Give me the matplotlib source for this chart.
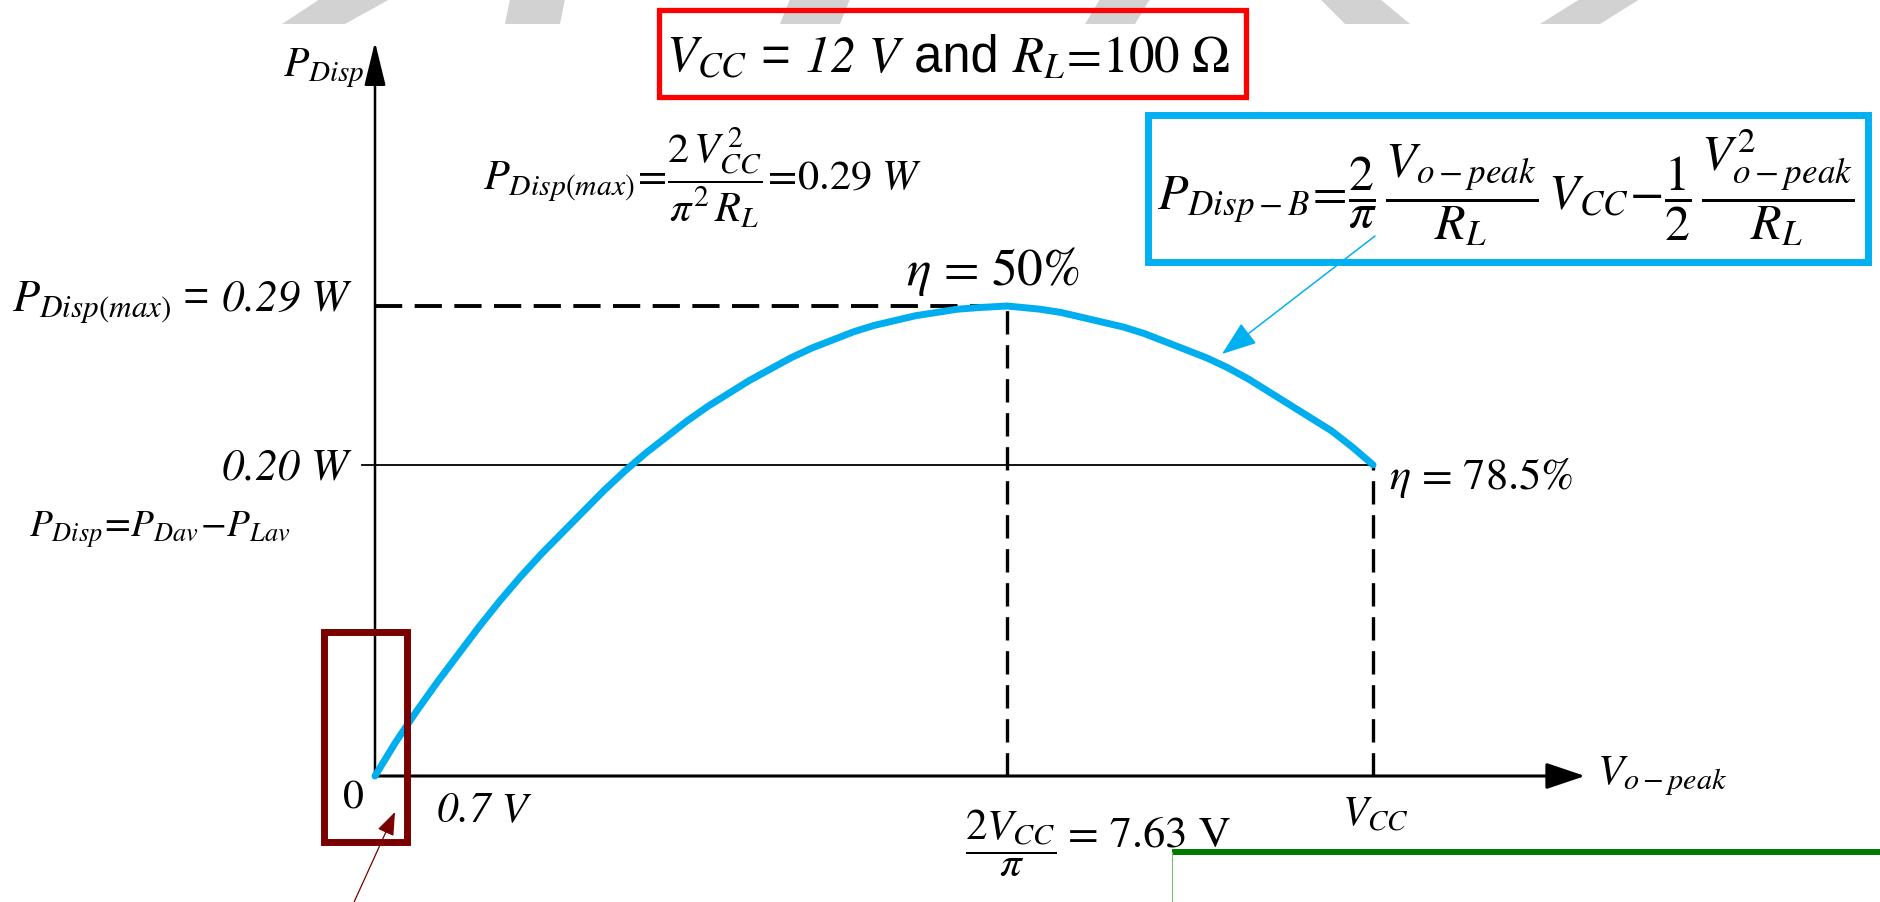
import matplotlib
matplotlib.use("Agg")
import matplotlib.pyplot as plt
from matplotlib.patches import Rectangle, Polygon

plt.rcParams['mathtext.fontset'] = 'stix'
plt.rcParams['font.family'] = ['STIXGeneral', 'DejaVu Serif']

# curve: V_o-peak (V) vs P_Disp (W)
v_out = [0, 0.25, 0.5, 0.75, 1.0, 1.25, 1.5, 1.75, 2.0, 2.25, 2.5, 2.75, 3.0,
         3.25, 3.5, 3.75, 4.0, 4.25, 4.5, 4.75, 5.0, 5.25, 5.5, 5.75, 6.0,
         6.25, 6.5, 6.75, 7.0, 7.25, 7.6, 8.0, 8.25, 8.5, 8.75, 9.0, 9.25,
         9.5, 9.75, 10.0, 10.25, 10.5, 10.75, 11.0, 11.25, 11.5, 11.75, 12.0]
p_disp = [0, 0.021, 0.040, 0.058, 0.075, 0.092, 0.108, 0.123, 0.137, 0.150,
          0.163, 0.176, 0.188, 0.199, 0.209, 0.219, 0.228, 0.236, 0.244, 0.251,
          0.258, 0.264, 0.269, 0.274, 0.278, 0.281, 0.284, 0.286, 0.288, 0.289,
          0.290, 0.288, 0.286, 0.283, 0.280, 0.277, 0.273, 0.268, 0.263, 0.258,
          0.252, 0.245, 0.237, 0.229, 0.221, 0.213, 0.203, 0.192]
vcc = 12
y_labels = ["0.29 W", "0.20 W"]
eta_labels = ["50%", "78.5%"]

# pixel -> data mapping of the drawing (origin at px 375,777)
X0, SX = 375, 83.17
Y0, SY = 777, 1620.7
W, H = 1881, 903
def X(px):
    return (px - X0) / SX
def Y(py):
    return (Y0 - py) / SY

fig = plt.figure(figsize=(W / 100, H / 100), dpi=100)
ax = fig.add_axes([0, 0, 1, 1])
ax.set_xlim(X(0), X(W))
ax.set_ylim(Y(H), Y(0))
ax.axis('off')
renderer = fig.canvas.get_renderer()

SANS = ['Liberation Sans', 'DejaVu Sans']
SERIF_IT = dict(family='STIXGeneral', fontstyle='italic')

def row(x_px, y_px, pieces, ha='left', size=30):
    # lay text pieces side by side on one baseline
    texts = [ax.text(0, 0, s, fontsize=size, ha='left', va='baseline', **kw) for s, kw in pieces]
    widths = [t.get_window_extent(renderer).width for t in texts]
    x = x_px - {'left': 0, 'center': sum(widths) / 2, 'right': sum(widths)}[ha]
    for t, w in zip(texts, widths):
        t.set_position((X(x), Y(y_px)))
        x += w

# faint watermark strokes at the top
wm = [((320, 390), (282, 345)), ((510, 565), (505, 560)), ((790, 850), (780, 840)),
      ((1100, 1150), (1085, 1135)), ((1320, 1380), (1345, 1410)), ((1580, 1640), (1540, 1600))]
for (t0, t1), (b0, b1) in wm:
    ax.add_patch(Polygon([(X(t0), Y(0)), (X(t1), Y(0)), (X(b1), Y(25)), (X(b0), Y(25))],
                         closed=True, color='#d2d2d2', lw=0, zorder=0))

# axes with arrows
ax.annotate('', xy=(0, Y(43)), xytext=(0, 0),
            arrowprops=dict(arrowstyle='-|>,head_length=0.9,head_width=0.22', mutation_scale=30,
                            lw=1.8, color='black', shrinkA=0, shrinkB=0))
ax.annotate('', xy=(X(1585), 0), xytext=(0, 0),
            arrowprops=dict(arrowstyle='-|>,head_length=0.8,head_width=0.27', mutation_scale=30,
                            lw=2.2, color='black', shrinkA=0, shrinkB=0))

# reference lines
imax = p_disp.index(max(p_disp))
v_max, p_max = v_out[imax], p_disp[imax]
p_end = p_disp[-1]
dash = (7, 3.2)
ax.plot([0, v_max], [p_max, p_max], color='black', lw=2.8, dashes=dash)
ax.plot([v_max, v_max], [0, p_max], color='black', lw=2.4, dashes=dash)
ax.plot([X(362), vcc], [p_end, p_end], color='black', lw=1.3)
ax.plot([vcc, vcc], [0, p_end], color='black', lw=2.4, dashes=dash)

# the curve
ax.plot(v_out, p_disp, color='#00AEEF', lw=5, solid_capstyle='round',
        solid_joinstyle='round', zorder=5)

# labels on the axes
ax.text(X(365), Y(68), r'$P_{Disp}$', fontsize=30, ha='right', va='center')
ax.text(X(1597), Y(776), r'$V_{o-peak}$', fontsize=31, ha='left', va='center')
row(348, 311, [(r'$P_{Disp(max)}$', {}), (' = ', dict(family=SANS)), (y_labels[0], SERIF_IT)],
    ha='right', size=32)
ax.text(X(348), Y(469), y_labels[1], fontsize=32, ha='right', va='center', **SERIF_IT)
ax.text(X(29), Y(530), r'$P_{Disp}\!=\!P_{Dav}\!-\!P_{Lav}$', fontsize=27, ha='left', va='center')
ax.text(X(353), Y(799), '0', fontsize=30, ha='center', va='center')
ax.text(X(437), Y(811), '0.7 V', fontsize=31, ha='left', va='center', **SERIF_IT)
ax.text(X(1011), Y(843), r'$\dfrac{2V_{CC}}{\pi}$', fontsize=31, ha='center', va='center')
ax.text(X(1068), Y(847), '= 7.63 V', fontsize=32, ha='left', va='baseline')
ax.text(X(1375), Y(815), r'$V_{CC}$', fontsize=30, ha='center', va='center')
ax.text(X(906), Y(272), r'$\eta$ = ' + eta_labels[0], fontsize=37, ha='left', va='center')
ax.text(X(1389), Y(478), r'$\eta$ = ' + eta_labels[1], fontsize=32, ha='left', va='center')

# formula for max dissipation
ax.text(X(483), Y(178), r'$P_{Disp(max)}\!=\!\dfrac{2\,V_{CC}^{\,2}}{\pi^{2}\,R_L}\!=\!0.29\ W$',
        fontsize=30.5, ha='left', va='center')

# red box with the circuit values
ax.add_patch(Rectangle((X(659), Y(98)), X(1246) - X(659), Y(11) - Y(98),
                       fill=False, ec='#ff0000', lw=3.8, zorder=6))
row(948, 72, [(r'$V_{CC}$', {}), (' = ', dict(family=SANS)), ('12 V', SERIF_IT),
              (' and ', dict(family=SANS)), (r'$R_L\!=\!100\ \Omega$', {})],
    ha='center', size=36.5)

# blue box with the dissipation formula
ax.add_patch(Rectangle((X(1148), Y(263)), X(1868) - X(1148), Y(116) - Y(263),
                       fill=False, ec='#00B0F0', lw=5, zorder=6))
ax.text(X(1157), Y(188),
        r'$P_{Disp-B}\!=\!\dfrac{2}{\pi}\,\dfrac{V_{o-peak}}{R_L}\,V_{CC}\!-\!\dfrac{1}{2}\,\dfrac{V_{o-peak}^{2}}{R_L}$',
        fontsize=36, ha='left', va='center')
ax.annotate('', xy=(X(1222), Y(355)), xytext=(X(1375), Y(237)),
            arrowprops=dict(arrowstyle='-|>,head_length=1.1,head_width=0.4', mutation_scale=20,
                            lw=1.1, color='#00B0F0', shrinkA=0, shrinkB=0))

# dark red box around the origin and its arrow
ax.add_patch(Rectangle((X(324.5), Y(842.5)), X(407.5) - X(324.5), Y(632.5) - Y(842.5),
                       fill=False, ec='#7a0000', lw=5, zorder=6))
ax.annotate('', xy=(X(395), Y(813)), xytext=(X(350), Y(912)),
            arrowprops=dict(arrowstyle='-|>,head_length=1.2,head_width=0.45', mutation_scale=12,
                            lw=0.9, color='#7a0000', shrinkA=0, shrinkB=0))

# green line at the bottom right
ax.plot([X(1172), X(W)], [Y(853), Y(853)], color='#007a00', lw=4.3, solid_capstyle='butt')
ax.plot([X(1172), X(1172)], [Y(853), Y(H)], color='#77bb77', lw=0.8)

fig.savefig('out.png', dpi=100, facecolor='white')
